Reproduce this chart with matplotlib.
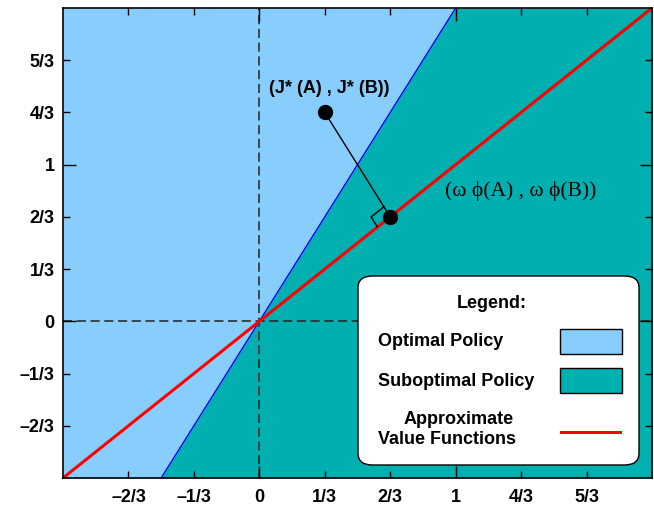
import numpy as np
import matplotlib as mpl
mpl.use('Agg')
import matplotlib.pyplot as plt
from matplotlib.patches import FancyBboxPatch, Rectangle
from matplotlib.lines import Line2D

# data
x_limits = [-1.0, 2.0]
y_limits = [-1.0, 2.0]
tick_values = [-2/3, -1/3, 0, 1/3, 2/3, 1, 4/3, 5/3]
tick_labels = ['\u20132/3', '\u20131/3', '0', '1/3', '2/3', '1', '4/3', '5/3']
boundary_slope = 2.0      # optimal / suboptimal policy boundary
approx_slope = 1.0        # approximate value functions
j_star = (1/3, 4/3)
projection = (2/3, 2/3)

light_blue = '#87CEFF'
teal = '#00AFAF'

plt.rcParams['font.family'] = ['Liberation Sans', 'DejaVu Sans']
plt.rcParams['font.weight'] = 'bold'

fig = plt.figure(figsize=(6.54, 5.07), dpi=100)
ax = fig.add_axes([63/654, 29/507, 589/654, 470/507])

xs = np.linspace(x_limits[0], x_limits[1], 601)
bound = np.clip(boundary_slope * xs, y_limits[0], y_limits[1])
ax.fill_between(xs, bound, y_limits[1], color=light_blue, lw=0, zorder=0)
ax.fill_between(xs, y_limits[0], bound, color=teal, lw=0, zorder=0)

# dashed axes through the origin
ax.axvline(0, color='#222222', lw=1.1, dashes=(6, 3), zorder=1)
ax.axhline(0, color='#222222', lw=1.1, dashes=(6, 3), zorder=1)

ax.plot(xs, boundary_slope * xs, color='blue', lw=1.0, zorder=2)
ax.plot(xs, approx_slope * xs, color='red', lw=2.2, zorder=2)

# projection of J* onto the approximation line
ax.plot([j_star[0], projection[0]], [j_star[1], projection[1]],
        color='black', lw=1.0, zorder=3)
u_red = -np.array([1.0, approx_slope]) / np.hypot(1.0, approx_slope)
u_con = np.array(j_star) - np.array(projection)
u_con = u_con / np.hypot(*u_con)
p = np.array(projection)
c1 = p + 0.092 * u_red
c3 = p + 0.072 * u_con
c2 = c1 + 0.072 * u_con
ax.plot([c1[0], c2[0], c3[0]], [c1[1], c2[1], c3[1]], color='black',
        lw=1.0, zorder=3)

ax.plot([j_star[0], projection[0]], [j_star[1], projection[1]], 'o',
        color='black', ms=10, zorder=4)

ax.text(j_star[0] + 0.025, j_star[1] + 0.155, '(J* (A) , J* (B))',
        fontsize=13, fontweight='bold', ha='center', va='center', zorder=5)
ax.text(1.333, 0.83, '(\u03c9 \u03d5(A) , \u03c9 \u03d5(B))',
        fontsize=15.5, fontweight='normal', ha='center', va='center',
        family=['Liberation Serif', 'DejaVu Serif'], zorder=5)

ax.set_xlim(x_limits)
ax.set_ylim(y_limits)

is_int = [np.isclose(v, round(v)) for v in tick_values]
maj = [v for v, k in zip(tick_values, is_int) if k]
maj_lab = [l for l, k in zip(tick_labels, is_int) if k]
mnr = [v for v, k in zip(tick_values, is_int) if not k]
mnr_lab = [l for l, k in zip(tick_labels, is_int) if not k]
for axis in (ax.xaxis, ax.yaxis):
    axis.set_ticks(maj, labels=maj_lab)
    axis.set_ticks(mnr, labels=mnr_lab, minor=True)
ax.tick_params(which='both', direction='in', top=True, right=True,
               labelsize=13, width=1.0, color='black')
ax.tick_params(which='major', length=9)
ax.tick_params(which='minor', length=4.7)
ax.tick_params(axis='x', which='both', pad=8)
ax.tick_params(axis='y', which='both', pad=6)
for lab in ax.get_xticklabels(which='both') + ax.get_yticklabels(which='both'):
    lab.set_fontweight('bold')
for s in ax.spines.values():
    s.set_linewidth(1.2)
    s.set_color('black')
    s.set_zorder(6)


# legend box (drawn by hand, pixel layout -> axes fraction)
def fx(px):
    return (px - 63) / 589


def fy(py):
    return (478 - py) / 470


box = FancyBboxPatch((fx(358), fy(465)), fx(639) - fx(358), fy(276) - fy(465),
                     boxstyle='round,pad=0,rounding_size=0.025',
                     transform=ax.transAxes, facecolor='white',
                     edgecolor='black', lw=1.0, zorder=7)
ax.add_patch(box)
ax.text(fx(492), fy(303), 'Legend:', transform=ax.transAxes, fontsize=13,
        fontweight='bold', ha='center', va='center', zorder=8)
ax.text(fx(378), fy(342), 'Optimal Policy', transform=ax.transAxes,
        fontsize=13, fontweight='bold', ha='left', va='center', zorder=8)
ax.text(fx(378), fy(381), 'Suboptimal Policy', transform=ax.transAxes,
        fontsize=13, fontweight='bold', ha='left', va='center', zorder=8)
ax.text(fx(404), fy(420), 'Approximate', transform=ax.transAxes,
        fontsize=13, fontweight='bold', ha='left', va='center', zorder=8)
ax.text(fx(378), fy(440), 'Value Functions', transform=ax.transAxes,
        fontsize=13, fontweight='bold', ha='left', va='center', zorder=8)
for top, col in [(329, light_blue), (368, teal)]:
    ax.add_patch(Rectangle((fx(560), fy(top + 25)), fx(622) - fx(560),
                           fy(top) - fy(top + 25), transform=ax.transAxes,
                           facecolor=col, edgecolor='black', lw=1.0,
                           zorder=8))
ax.add_line(Line2D([fx(561), fx(620)], [fy(432), fy(432)],
                   transform=ax.transAxes, color='red', lw=2.2, zorder=8))

fig.savefig('out.png', dpi=100)
